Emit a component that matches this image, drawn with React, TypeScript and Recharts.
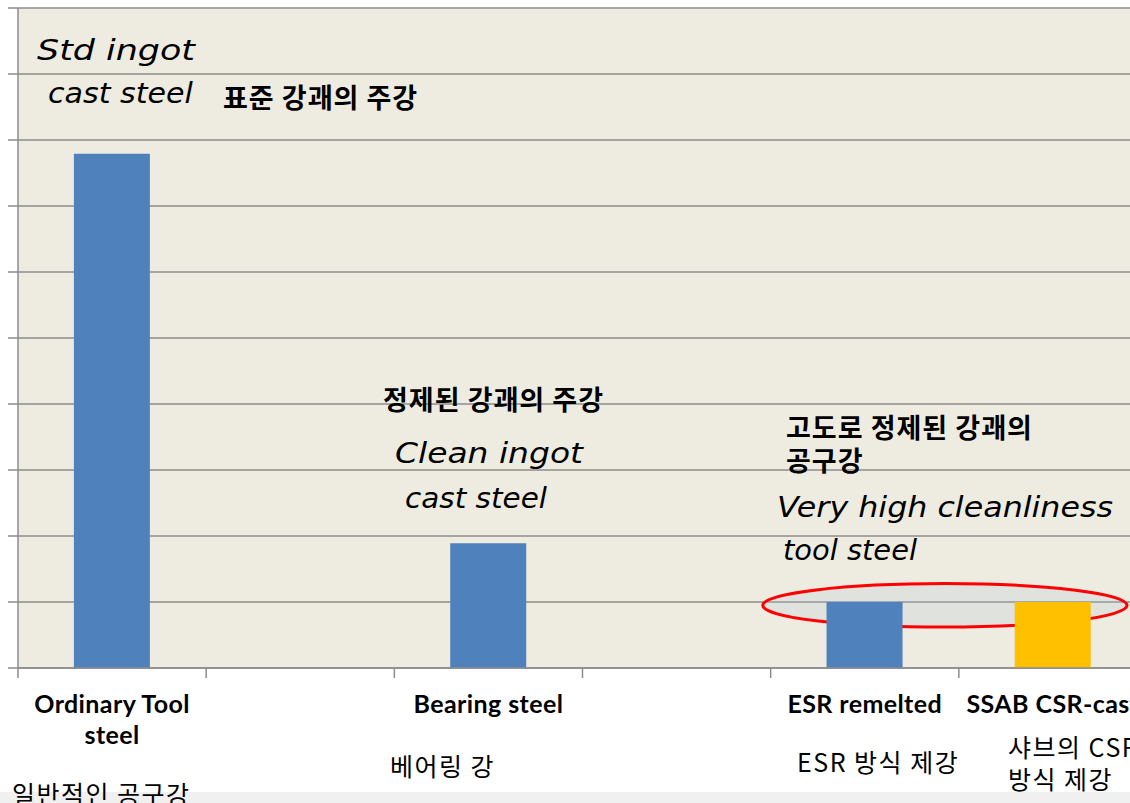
import React from 'react';
import {
	BarChart,
	Bar,
	Cell,
	XAxis,
	YAxis,
	CartesianGrid,
	ReferenceArea,
} from 'recharts';

// category keys (gaps are the empty slots between the named groups)
const categories = ['ordinary', 'gap1', 'bearing', 'gap2', 'esr', 'ssab'];
const tickLabels: string[][] = [
	['Ordinary Tool', 'steel'],
	[],
	['Bearing steel'],
	[],
	['ESR remelted'],
	['SSAB CSR-cast'],
];
const koreanLabels: string[][] = [
	['일반적인 공구강'],
	[],
	['베어링 강'],
	[],
	['ESR 방식 제강'],
	['샤브의 CSR', '방식 제강'],
];
const inclusionValues: (number | null)[] = [7.79, null, 1.89, null, 1.0, 1.0];
const barColors = ['#4F81BD', '#4F81BD', '#4F81BD', '#4F81BD', '#4F81BD', '#FFC000'];
const yTicks = [0, 1, 2, 3, 4, 5, 6, 7, 8, 9, 10];

const handNotes = ['Std ingot', 'cast steel', 'Clean ingot', 'cast steel', 'Very high cleanliness', 'tool steel'];
const koreanNotes = ['표준 강괘의 주강', '정제된 강괘의 주강', '고도로 정제된 강괘의', '공구강'];

const data = categories.map((key, i) => ({ key, value: inclusionValues[i] }));

const GRID = '#8c8c8c';

const NoLabel = () => <g />;

const AxisTick = (props: any) => {
	const { x, y, payload } = props;
	const idx = categories.indexOf(payload.value);
	const half = payload.offset ?? 94;
	const lines = tickLabels[idx] ?? [];
	return (
		<g>
			<line x1={x - half} x2={x - half} y1={y - 10} y2={y} stroke={GRID} strokeWidth={1.5} />
			<text
				x={x}
				y={y + 35}
				textAnchor="middle"
				fontFamily="Lato"
				fontWeight={700}
				fontSize={25}
				letterSpacing={0.4}
				fill="#000"
			>
				{lines.map((l, i) => (
					<tspan key={i} x={x} dy={i === 0 ? 0 : 31}>
						{l}
					</tspan>
				))}
			</text>
		</g>
	);
};

const Ring = (props: any) => {
	const { x, y, width, height } = props;
	return (
		<ellipse
			cx={x + width * 0.463}
			cy={y + height / 2}
			rx={width * 0.484}
			ry={height / 2}
			fill="rgba(173,191,210,0.22)"
			stroke="#ff0000"
			strokeWidth={3}
		/>
	);
};

const handStyle = {
	fontFamily: 'DejaVu Sans',
	fontStyle: 'italic',
	fontSize: 28,
	fill: '#000',
} as const;
const koBold = {
	fontFamily: 'Noto Sans CJK KR',
	fontWeight: 700,
	fontSize: 27,
	letterSpacing: 1,
	fill: '#000',
} as const;
const koPlain = {
	fontFamily: 'Noto Sans CJK KR',
	fontSize: 25,
	letterSpacing: 1.5,
	fill: '#000',
} as const;

const App: React.FC = () => {
	// [x, baseline, width] for the hand-written notes
	const handPos = [
		[37, 60, 158],
		[48, 103, 145],
		[395, 463, 188],
		[405, 508, 142],
		[777, 517, 336],
		[783, 560, 134],
	];
	const koNotePos = [
		[223, 108],
		[383, 410],
		[786, 438],
		[786, 471],
	];
	// bottom korean captions, [x, baseline] per line
	const koLabelPos: Record<number, number[][]> = {
		0: [[12, 804]],
		2: [[390, 776]],
		4: [[797, 772]],
		5: [
			[1008, 757],
			[1008, 789],
		],
	};

	return (
		<div
			style={{
				position: 'absolute',
				left: 0,
				top: 0,
				width: 1130,
				height: 803,
				overflow: 'hidden',
				background: '#fff',
			}}
		>
			<div
				style={{
					position: 'absolute',
					left: 0,
					top: 792,
					width: 1130,
					height: 11,
					background: '#f0f0f0',
				}}
			/>
			<div style={{ position: 'absolute', left: 0, top: 0 }}>
				<BarChart
					width={1147}
					height={792}
					data={data}
					margin={{ top: 8, right: 0, bottom: 0, left: 0 }}
					barCategoryGap="29.7%"
				>
					<CartesianGrid
						vertical={false}
						fill="#EEECE1"
						stroke={GRID}
						strokeWidth={1.5}
					/>
					<XAxis
						dataKey="key"
						height={124}
						interval={0}
						tickLine={false}
						tickSize={10}
						tickMargin={0}
						axisLine={{ stroke: GRID, strokeWidth: 1.5 }}
						tick={<AxisTick />}
					/>
					<YAxis
						type="number"
						domain={[0, 10]}
						ticks={yTicks}
						interval={0}
						width={18}
						tick={<NoLabel />}
						tickSize={10}
						tickLine={{ stroke: GRID, strokeWidth: 1.5 }}
						axisLine={{ stroke: GRID, strokeWidth: 1.5 }}
					/>
					<Bar dataKey="value" isAnimationActive={false}>
						{data.map((d, i) => (
							<Cell key={d.key} fill={barColors[i]} />
						))}
					</Bar>
					<ReferenceArea
						x1="esr"
						x2="ssab"
						y1={0.62}
						y2={1.28}
						shape={<Ring />}
						ifOverflow="visible"
					/>
				</BarChart>
			</div>

			<svg
				width={1130}
				height={803}
				style={{ position: 'absolute', left: 0, top: 0, pointerEvents: 'none' }}
			>
				{handNotes.map((t, i) => (
					<text
						key={'h' + i}
						x={handPos[i][0]}
						y={handPos[i][1]}
						textLength={handPos[i][2]}
						lengthAdjust="spacingAndGlyphs"
						{...handStyle}
					>
						{t}
					</text>
				))}
				{koreanNotes.map((t, i) => (
					<text key={'k' + i} x={koNotePos[i][0]} y={koNotePos[i][1]} {...koBold}>
						{t}
					</text>
				))}
				{koreanLabels.map((lines, i) =>
					lines.map((t, j) => (
						<text
							key={'l' + i + j}
							x={koLabelPos[i][j][0]}
							y={koLabelPos[i][j][1]}
							{...koPlain}
						>
							{t}
						</text>
					))
				)}
			</svg>
		</div>
	);
};

export default App;
